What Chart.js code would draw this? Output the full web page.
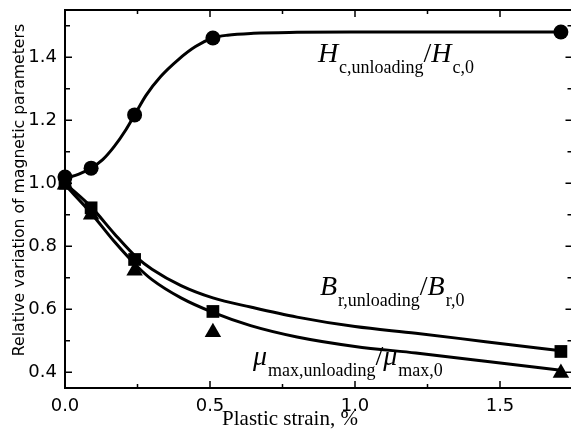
<!DOCTYPE html>
<html lang="en">
<head>
<meta charset="UTF-8">
<title>Relative variation of magnetic parameters</title>
<script src="https://cdn.jsdelivr.net/npm/chart.js"></script>
<style>
    html, body { margin: 0; padding: 0; background: #fff; overflow: hidden; }
    canvas { display: block; }
</style>
</head>
<body>
<canvas id="chart" width="575" height="442"></canvas>
<script>
// measured points
const strain = [0, 0.09, 0.24, 0.51, 1.71];
const hcRatio = [1.02, 1.048, 1.217, 1.461, 1.48];
const brRatio = [1.0, 0.922, 0.758, 0.593, 0.466];
const muRatio = [0.995, 0.90, 0.722, 0.527, 0.398];

// fitted curves
const hcCurveX = [0, 0.05, 0.09, 0.13, 0.17, 0.21, 0.24, 0.28, 0.33, 0.39, 0.45, 0.51, 0.56, 0.65, 0.8, 1.0, 1.3, 1.71];
const hcCurveY = [1.015, 1.03, 1.048, 1.075, 1.117, 1.17, 1.217, 1.28, 1.339, 1.392, 1.434, 1.461, 1.47, 1.476, 1.479, 1.48, 1.48, 1.48];
const decayCurveX = [0, 0.09, 0.17, 0.25, 0.3, 0.4, 0.51, 0.64, 0.8, 1.0, 1.21, 1.45, 1.71];
const brCurveY = [1.0, 0.925, 0.84, 0.762, 0.727, 0.675, 0.636, 0.607, 0.575, 0.545, 0.524, 0.497, 0.468];
const muCurveY = [0.995, 0.905, 0.815, 0.735, 0.694, 0.636, 0.59, 0.548, 0.512, 0.482, 0.461, 0.435, 0.406];

const xTicks = [0, 0.5, 1.0, 1.5];
const yTicks = [0.4, 0.6, 0.8, 1.0, 1.2, 1.4];
const xTitle = 'Plastic strain, %';
const yTitle = 'Relative variation of magnetic parameters';

// curve labels: [main, sub, main, sub] anchored at a data point
const labels = [
    { x: 0.872, y: 1.385, parts: ['H', 'c,unloading', 'H', 'c,0'] },
    { x: 0.879, y: 0.645, parts: ['B', 'r,unloading', 'B', 'r,0'] },
    { x: 0.648, y: 0.423, parts: ['\u03bc', 'max,unloading', '\u03bc', 'max,0'] }
];

const pts = (xs, ys) => xs.map((x, i) => ({ x: x, y: ys[i] }));

// box with inward ticks on all four sides, plus the axis titles
const frame = {
    id: 'frame',
    afterDraw(chart) {
        const ctx = chart.ctx;
        const a = chart.chartArea;
        const xs = chart.scales.x, ys = chart.scales.y;
        ctx.save();
        ctx.strokeStyle = '#000';
        ctx.lineWidth = 2;
        ctx.strokeRect(a.left, a.top, a.right - a.left, a.bottom - a.top);
        ctx.lineWidth = 1.5;
        ctx.beginPath();
        xTicks.forEach(v => {
            [[v, 7], [v + 0.25, 4]].forEach(([t, len]) => {
                const p = xs.getPixelForValue(t);
                if (p > a.right) return;
                ctx.moveTo(p, a.bottom); ctx.lineTo(p, a.bottom - len);
                ctx.moveTo(p, a.top); ctx.lineTo(p, a.top + len);
            });
        });
        yTicks.forEach(v => {
            [[v, 7], [v + 0.1, 5]].forEach(([t, len]) => {
                const p = ys.getPixelForValue(t);
                if (p < a.top) return;
                ctx.moveTo(a.left, p); ctx.lineTo(a.left + len, p);
                ctx.moveTo(a.right, p); ctx.lineTo(a.right - len, p);
            });
        });
        ctx.stroke();

        ctx.fillStyle = '#000';
        ctx.textAlign = 'center';
        ctx.textBaseline = 'alphabetic';
        ctx.font = '21px "Liberation Serif"';
        ctx.fillText(xTitle, 290, 425);

        ctx.translate(20, 190);
        ctx.rotate(-Math.PI / 2);
        ctx.textBaseline = 'middle';
        ctx.font = '15.7px "DejaVu Sans"';
        ctx.fillText(yTitle, 0, 0);
        ctx.restore();
    }
};

const curveLabels = {
    id: 'curveLabels',
    afterDatasetsDraw(chart) {
        const ctx = chart.ctx;
        const xs = chart.scales.x, ys = chart.scales.y;
        ctx.save();
        ctx.fillStyle = '#000';
        ctx.textBaseline = 'alphabetic';
        labels.forEach(l => {
            let px = xs.getPixelForValue(l.x);
            const py = ys.getPixelForValue(l.y);
            l.parts.forEach((txt, i) => {
                if (i % 2 === 0) {
                    if (i === 2) {
                        ctx.font = '28px "Liberation Serif"';
                        ctx.fillText('/', px, py);
                        px += ctx.measureText('/').width;
                    }
                    ctx.font = 'italic 28px "Liberation Serif"';
                    ctx.fillText(txt, px, py);
                    px += ctx.measureText(txt).width + 1;
                } else {
                    ctx.font = '18px "Liberation Serif"';
                    ctx.fillText(txt, px, py + 11);
                    px += ctx.measureText(txt).width;
                }
            });
        });
        ctx.restore();
    }
};

new Chart(document.getElementById('chart'), {
    type: 'scatter',
    data: {
        datasets: [
            { data: pts(hcCurveX, hcCurveY), showLine: true, pointRadius: 0, borderColor: '#000', borderWidth: 3, tension: 0.4, cubicInterpolationMode: 'monotone' },
            { data: pts(decayCurveX, brCurveY), showLine: true, pointRadius: 0, borderColor: '#000', borderWidth: 3, tension: 0.4, cubicInterpolationMode: 'monotone' },
            { data: pts(decayCurveX, muCurveY), showLine: true, pointRadius: 0, borderColor: '#000', borderWidth: 3, tension: 0.4, cubicInterpolationMode: 'monotone' },
            { data: pts(strain, hcRatio), pointStyle: 'circle', pointRadius: 7.5, backgroundColor: '#000', borderColor: '#000', borderWidth: 0 },
            { data: pts(strain, brRatio), pointStyle: 'rect', pointRadius: 9, backgroundColor: '#000', borderColor: '#000', borderWidth: 0 },
            { data: pts(strain, muRatio), pointStyle: 'triangle', pointRadius: 9.5, backgroundColor: '#000', borderColor: '#000', borderWidth: 0 }
        ]
    },
    options: {
        responsive: false,
        animation: false,
        clip: false,
        layout: { autoPadding: false, padding: { top: 10, right: 2.5, left: 0, bottom: 0 } },
        plugins: { legend: { display: false }, tooltip: { enabled: false } },
        scales: {
            x: {
                type: 'linear',
                min: 0,
                max: 1.75,
                afterBuildTicks: s => { s.ticks = xTicks.map(v => ({ value: v })); },
                afterFit: s => { s.height = 54; s.paddingLeft = 0; s.paddingRight = 0; },
                grid: { display: false, drawTicks: false },
                border: { display: false },
                ticks: { color: '#000', font: { family: 'DejaVu Sans', size: 18 }, padding: 8, maxRotation: 0, callback: v => v.toFixed(1) }
            },
            y: {
                min: 0.35,
                max: 1.55,
                afterBuildTicks: s => { s.ticks = yTicks.map(v => ({ value: v })); },
                afterFit: s => { s.width = 65; s.paddingTop = 0; s.paddingBottom = 0; },
                grid: { display: false, drawTicks: false },
                border: { display: false },
                ticks: { color: '#000', font: { family: 'DejaVu Sans', size: 18 }, padding: 8, callback: v => v.toFixed(1) }
            }
        }
    },
    plugins: [frame, curveLabels]
});
</script>
</body>
</html>
